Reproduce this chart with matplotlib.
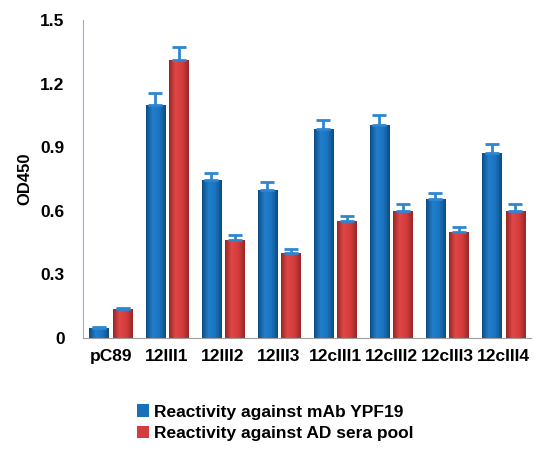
import numpy as np
import matplotlib.pyplot as plt
from matplotlib.colors import LinearSegmentedColormap

plt.rcParams['font.family'] = ['Liberation Sans', 'DejaVu Sans']

categories = ["pC89", "12III1", "12III2", "12III3", "12cIII1", "12cIII2", "12cIII3", "12cIII4"]
mab = [0.047, 1.10, 0.745, 0.70, 0.985, 1.005, 0.655, 0.87]
mab_err = [0.005, 0.055, 0.035, 0.035, 0.045, 0.045, 0.03, 0.045]
sera = [0.137, 1.31, 0.46, 0.40, 0.55, 0.60, 0.50, 0.60]
sera_err = [0.004, 0.06, 0.025, 0.02, 0.025, 0.03, 0.025, 0.03]
yticks = [0, 0.3, 0.6, 0.9, 1.2, 1.5]
ytick_labels = ["0", "0.3", "0.6", "0.9", "1.2", "1.5"]

fig = plt.figure(figsize=(5.34, 4.53), dpi=100)
ax = fig.add_axes([0.155, 0.254, 0.84, 0.702])

x = np.arange(len(categories))
w = 0.34
blue = "#1870b8"
red = "#d43c3c"
errc = "#2f86d0"

blue_cm = LinearSegmentedColormap.from_list("b", ["#0c4c84", "#1f7fcc", "#1a74c0", "#0c4c84"])
red_cm = LinearSegmentedColormap.from_list("r", ["#9a2626", "#e04848", "#d43c3c", "#9a2626"])
grad = np.linspace(0, 1, 64).reshape(1, -1)

bars_b = ax.bar(x - 0.21, mab, w, color=blue, edgecolor="none",
                label="Reactivity against mAb YPF19")
bars_r = ax.bar(x + 0.21, sera, w, color=red, edgecolor="none",
                label="Reactivity against AD sera pool")

# horizontal shading on each bar
for bars, cm in [(bars_b, blue_cm), (bars_r, red_cm)]:
    for b in bars:
        x0, y0 = b.get_x(), b.get_y()
        im = ax.imshow(grad, cmap=cm, aspect="auto", zorder=b.get_zorder() + 0.1,
                       extent=[x0, x0 + b.get_width(), y0, y0 + b.get_height()])
        im.set_clip_path(b)

# only upper error bars
ax.errorbar(x - 0.21, mab, yerr=[np.zeros(len(mab)), mab_err], fmt="none",
            ecolor=errc, elinewidth=2, capsize=5, capthick=2, zorder=3)
ax.errorbar(x + 0.21, sera, yerr=[np.zeros(len(sera)), sera_err], fmt="none",
            ecolor=errc, elinewidth=2, capsize=5, capthick=2, zorder=3)

ax.set_xlim(-0.5, 7.5)
ax.set_ylim(0, 1.5)
ax.set_yticks(yticks)
ax.set_yticklabels(ytick_labels, fontsize=12.5, fontweight="bold")
ax.set_xticks(x)
ax.set_xticklabels(categories, fontsize=12.5, fontweight="bold")
ax.tick_params(length=0)
ax.tick_params(axis="y", pad=13)
ax.tick_params(axis="x", pad=8)
ax.set_ylabel("OD450", fontsize=12, fontweight="bold", labelpad=6)

for s in ["top", "right"]:
    ax.spines[s].set_visible(False)
ax.spines["left"].set_color("#8fb4dc")
ax.spines["bottom"].set_color("#a0a0a0")

ax.legend(loc="upper left", bbox_to_anchor=(0.085, -0.16), frameon=False,
          prop={"weight": "bold", "size": 12.5},
          handlelength=0.7, handleheight=0.7, handletextpad=0.3, labelspacing=0.35)

plt.savefig("out.png")
